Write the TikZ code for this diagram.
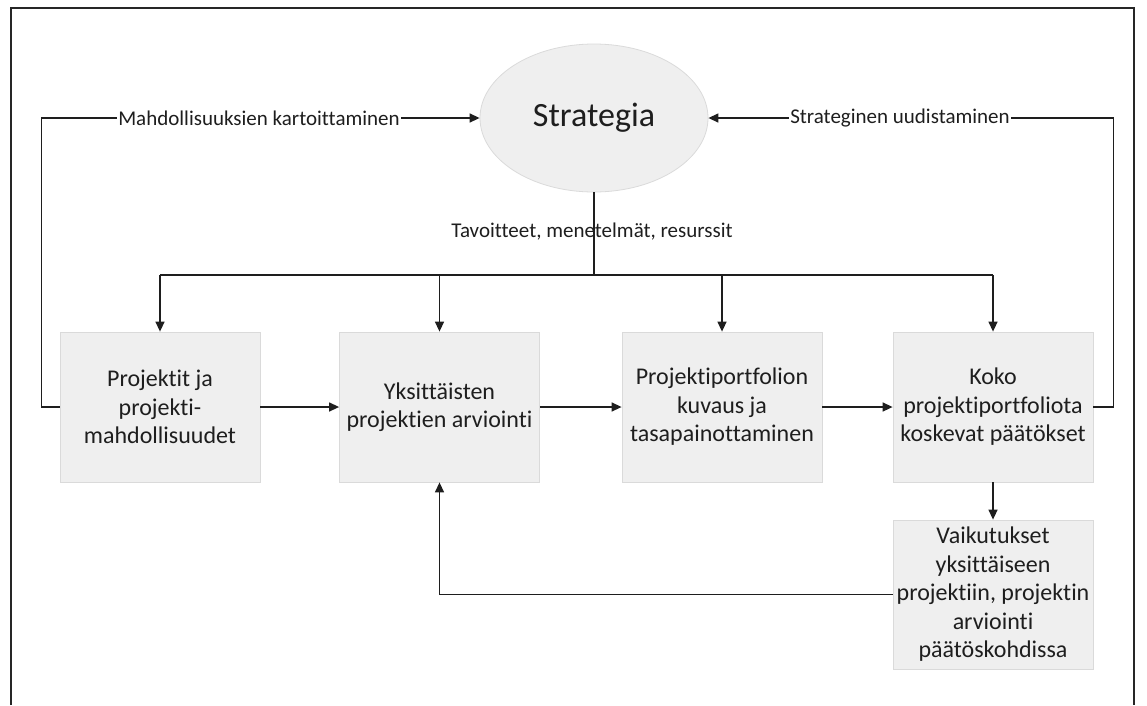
\documentclass[tikz,border=0pt]{standalone}
\usepackage{fontspec}
\setmainfont{Carlito}[Ligatures={NoCommon}]
\usetikzlibrary{arrows.meta,shapes.geometric}
\definecolor{ink}{HTML}{1E1E1E}
\definecolor{boxfill}{HTML}{EFEFEF}
\definecolor{boxline}{HTML}{DADADA}
\begin{document}
\begin{tikzpicture}[x=1pt,y=-1pt,
  line/.style={draw=ink, line width=1.4pt},
  arr/.style={line, -{Triangle[length=10pt,width=9pt]}},
  box/.style={draw=boxline, line width=0.8pt, fill=boxfill, minimum width=200pt, minimum height=150pt, align=center, text=ink, font=\fontsize{24}{28.5}\selectfont, inner sep=0pt},
  lbl/.style={font=\fontsize{21}{24}\selectfont, text=ink, inner sep=1pt}]
\useasboundingbox (0,0) rectangle (1147,705);
\draw[black!85, line width=1.5pt] (11,705) -- (11,8) -- (1134,8) -- (1134,705);
\node[ellipse, draw=boxline, line width=0.8pt, fill=boxfill, minimum width=228pt, minimum height=148pt, inner sep=0pt, text=ink, font=\fontsize{34}{40}\selectfont] (s) at (594,118) {Strategia};
\node[box] (b1) at (160,407) {Projektit ja\\projekti-\\mahdollisuudet};
\node[box] (b2) at (439.5,407) {Yksittäisten\\projektien arviointi};
\node[box] (b3) at (722,407) {Projektiportfolion\\kuvaus ja\\tasapainottaminen};
\node[box] (b4) at (993,407) {Koko\\projektiportfoliota\\koskevat päätökset};
\node[box, minimum height=149pt] (b5) at (993,594.5) {Vaikutukset\\yksittäiseen\\projektiin, projektin\\arviointi\\päätöskohdissa};
\coordinate (bus) at (594,275);
\draw[line] (s.south) -- (bus);
\draw[line] (b1.north |- bus) -- (b4.north |- bus);
\foreach \b in {b1,b2,b3,b4} \draw[arr] (\b.north |- bus) -- (\b.north);
\draw[arr] (b1) -- (b2);
\draw[arr] (b2) -- (b3);
\draw[arr] (b3) -- (b4);
\draw[arr] (b4) -- (b5);
\draw[arr] (b5.west) -| (b2.south);
\draw[arr] (b1.west) -- ++(-18,0) |- (s.west);
\draw[arr] (b4.east) -- ++(20,0) |- (s.east);
\node[lbl, fill=white] (l1) at (259,118) {Mahdollisuuksien kartoittaminen};
\node[lbl, fill=white] (l2) at (900,118) {Strateginen uudistaminen};
\node[lbl] (l3) at (592,232) {Tavoitteet, menetelmät, resurssit};
\end{tikzpicture}
\end{document}
